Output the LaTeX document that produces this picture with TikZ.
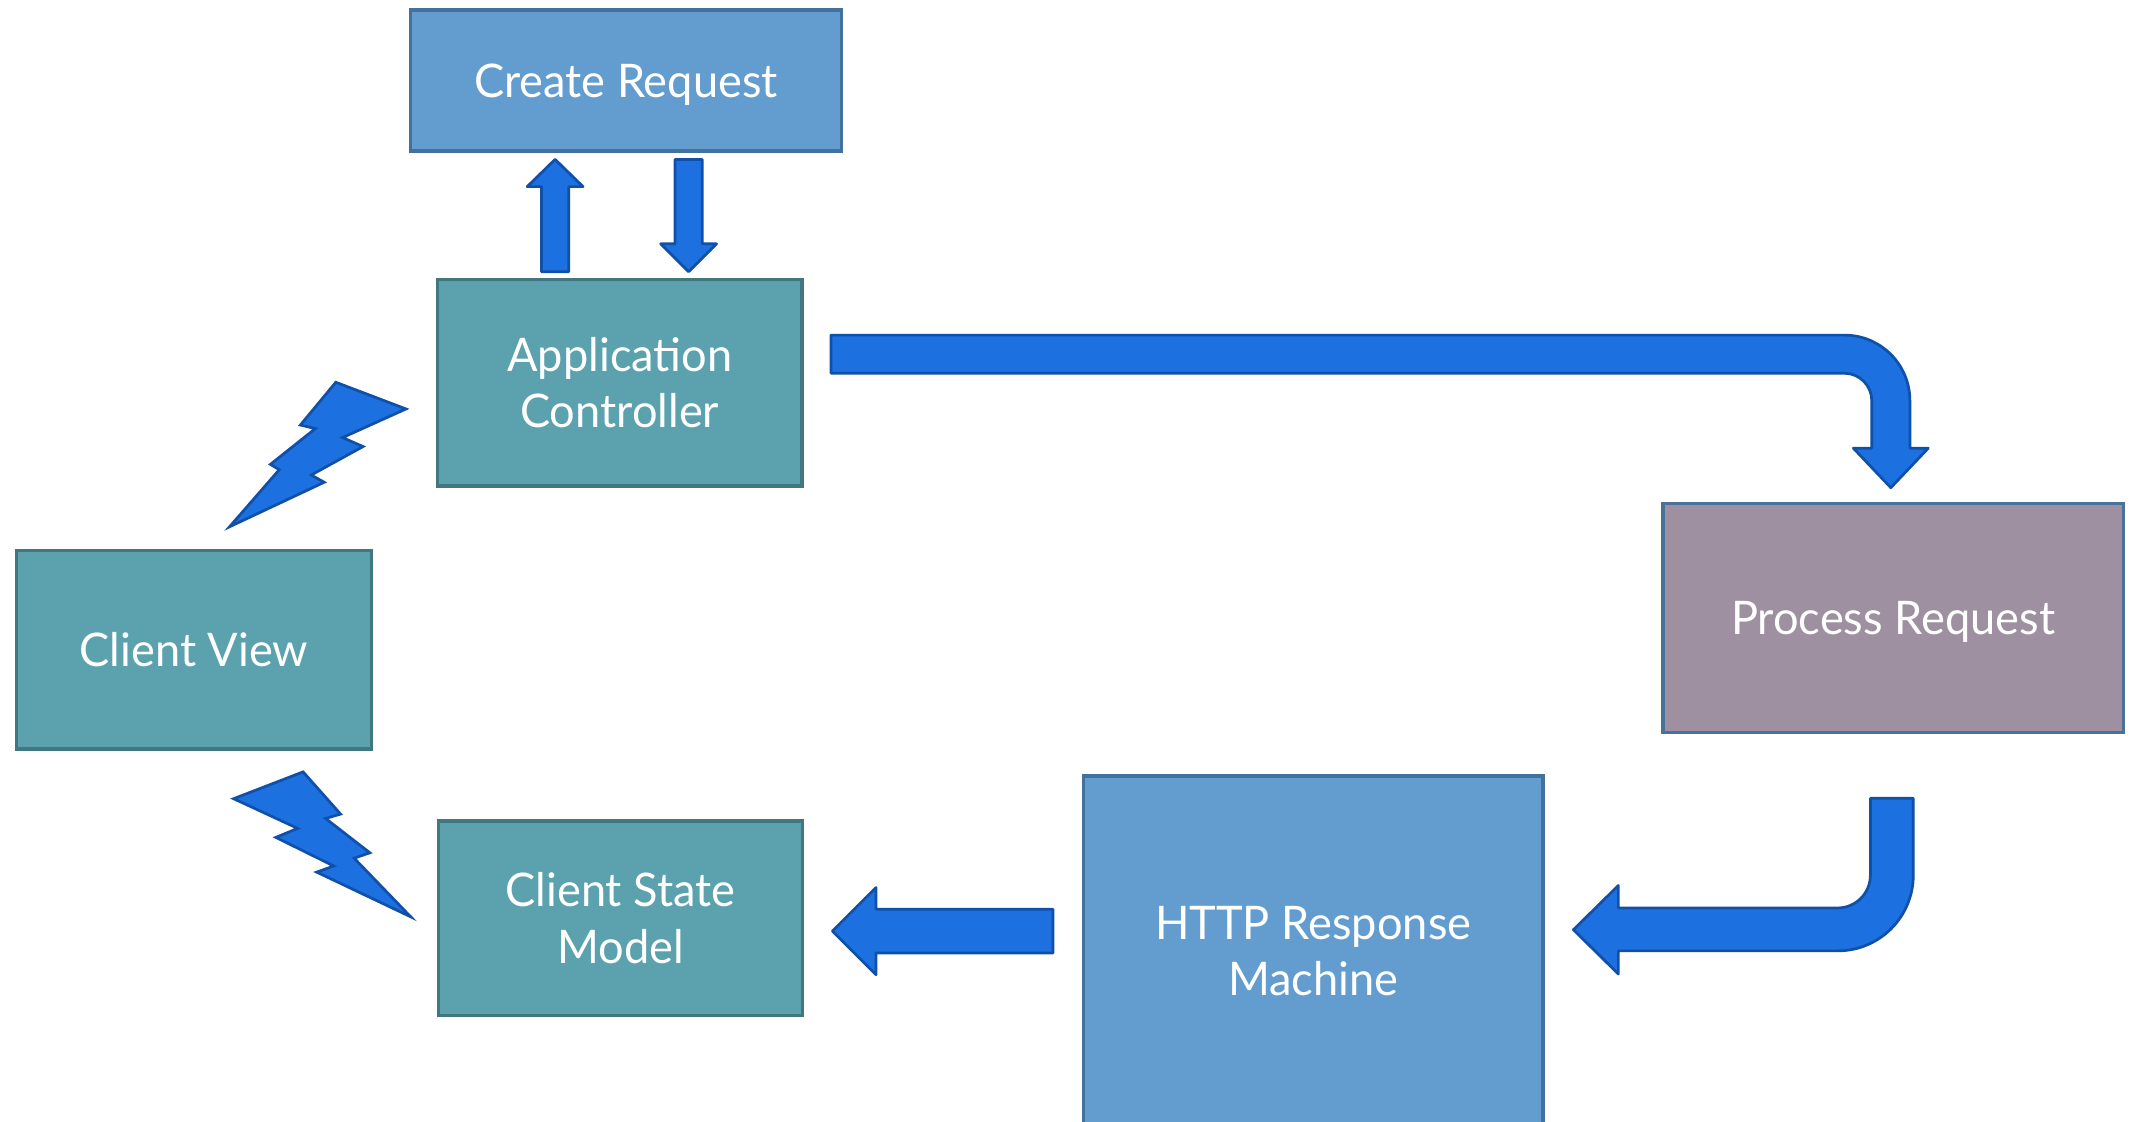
\documentclass[tikz,border=0pt]{standalone}
\usepackage{fontspec}
\setmainfont{Lato}[FakeStretch=0.975]
\definecolor{tealfill}{HTML}{5BA2AE}
\definecolor{tealline}{HTML}{41787F}
\definecolor{bluefill}{HTML}{639DD0}
\definecolor{blueline}{HTML}{41719C}
\definecolor{greyfill}{HTML}{9E90A0}
\definecolor{greyline}{HTML}{4A7197}
\definecolor{arrowfill}{HTML}{1C70E0}
\definecolor{arrowline}{HTML}{1050A8}
\begin{document}
\begin{tikzpicture}[x=1pt,y=-1pt,
  box/.style={draw, line width=2.5pt, rectangle, inner sep=0pt, text=white, align=center, font=\fontsize{34}{41.5}\selectfont},
  oneline/.style={text height=24.5pt, text depth=-1.5pt},
  tealbox/.style={box, fill=tealfill, draw=tealline},
  bluebox/.style={box, fill=bluefill, draw=blueline},
  greybox/.style={box, fill=greyfill, draw=greyline},
  blockarrow/.style={fill=arrowfill, draw=arrowline, line width=2pt, line join=round}]
\useasboundingbox (0,0) rectangle (1568,823);
% boxes
\node[bluebox, oneline, minimum width=316.5pt, minimum height=103.5pt] (cr) at (459.5,59) {Create Request};
\node[tealbox, minimum width=267.5pt, minimum height=151.5pt] (app) at (455,281) {Application\\Controller};
\node[tealbox, oneline, minimum width=260.5pt, minimum height=145.5pt] (cv) at (142.5,477) {Client View};
\node[tealbox, minimum width=267.5pt, minimum height=142.5pt] (csm) at (455.5,674) {Client State\\Model};
\node[greybox, oneline, minimum width=338pt, minimum height=168pt] (pr) at (1389.75,453.75) {Process Request};
\node[bluebox, minimum width=337.5pt, minimum height=257pt] (http) at (964,698.25) {HTTP Response\\Machine};
% up arrow app -> cr
\draw[blockarrow] (397.5,199.5) -- (397.5,137) -- (387,137) -- (407.5,117) -- (428,137) -- (417.5,137) -- (417.5,199.5) -- cycle;
% down arrow cr -> app
\draw[blockarrow] (495.5,117) -- (515.5,117) -- (515.5,179) -- (526,179) -- (505.5,199.5) -- (485,179) -- (495.5,179) -- cycle;
% bent arrow app -> pr
\draw[blockarrow] (610,246) -- (1354,246) .. controls (1380.5,246) and (1402,267.5) .. (1402,294)
  -- (1402,329) -- (1415.5,329) -- (1388,358) -- (1360.5,329) -- (1374,329) -- (1374,294)
  .. controls (1374,283) and (1365,274) .. (1354,274) -- (610,274) -- cycle;
% bent arrow pr -> http
\draw[blockarrow] (1373,586) -- (1404.5,586) -- (1404.5,642.5) .. controls (1404.5,673.15) and (1379.65,698) .. (1349,698)
  -- (1188,698) -- (1188,715) -- (1155,682.5) -- (1188,650) -- (1188,666.5) -- (1349,666.5)
  .. controls (1362.25,666.5) and (1373,655.75) .. (1373,642.5) -- cycle;
% left arrow http -> csm
\draw[blockarrow] (773,667.5) -- (643,667.5) -- (643,651.5) -- (611,683.5) -- (643,715.5) -- (643,699.5) -- (773,699.5) -- cycle;
% lightning cv -- app
\draw[blockarrow, line join=miter] (246.5,280.6) -- (298,300.2) -- (251.5,321.2) -- (266.5,327.8) -- (228.5,348.7) -- (238,354) -- (168.5,386.7) -- (205,344.8) -- (198.5,340.9) -- (231.5,314.6) -- (220.5,312) -- cycle;
% lightning csm -- cv
\draw[blockarrow, line join=miter] (222.5,566.6) -- (250,597.6) -- (239,600.8) -- (271.5,626) -- (260,630) -- (301.5,673) -- (232.5,640.2) -- (245,635.7) -- (202.5,614.7) -- (218.5,608.1) -- (171.5,586.3) -- cycle;
\end{tikzpicture}
\end{document}
